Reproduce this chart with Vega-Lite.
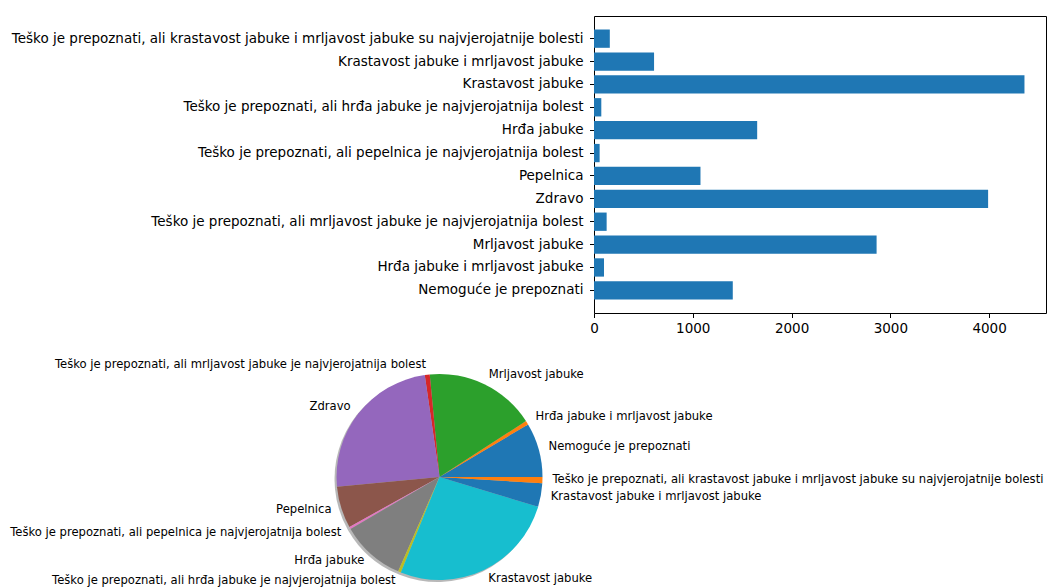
{
  "$schema": "https://vega.github.io/schema/vega-lite/v6.json",
  "padding": {"left": 9.5, "top": 15, "right": 0, "bottom": 0},
  "background": "white",
  "config": {"font": "DejaVu Sans", "view": {"stroke": null}},
  "spacing": 8,
  "data": {
    "values": [
      {"label": "Nemoguće je prepoznati", "n": 1405},
      {"label": "Hrđa jabuke i mrljavost jabuke", "n": 101},
      {"label": "Mrljavost jabuke", "n": 2861},
      {"label": "Teško je prepoznati, ali mrljavost jabuke je najvjerojatnija bolest", "n": 128},
      {"label": "Zdravo", "n": 3990},
      {"label": "Pepelnica", "n": 1078},
      {"label": "Teško je prepoznati, ali pepelnica je najvjerojatnija bolest", "n": 57},
      {"label": "Hrđa jabuke", "n": 1652},
      {"label": "Teško je prepoznati, ali hrđa jabuke je najvjerojatnija bolest", "n": 74},
      {"label": "Krastavost jabuke", "n": 4358},
      {"label": "Krastavost jabuke i mrljavost jabuke", "n": 608},
      {"label": "Teško je prepoznati, ali krastavost jabuke i mrljavost jabuke su najvjerojatnije bolesti", "n": 160}
    ]
  },
  "vconcat": [
    {
      "spacing": 4.5,
      "hconcat": [
        {
          "width": 574,
          "height": 297,
          "mark": {"type": "text", "align": "right", "baseline": "middle", "fontSize": 13.5, "color": "#000"},
          "encoding": {
            "y": {
              "field": "label",
              "type": "nominal",
              "sort": [
                "Teško je prepoznati, ali krastavost jabuke i mrljavost jabuke su najvjerojatnije bolesti",
                "Krastavost jabuke i mrljavost jabuke",
                "Krastavost jabuke",
                "Teško je prepoznati, ali hrđa jabuke je najvjerojatnija bolest",
                "Hrđa jabuke",
                "Teško je prepoznati, ali pepelnica je najvjerojatnija bolest",
                "Pepelnica",
                "Zdravo",
                "Teško je prepoznati, ali mrljavost jabuke je najvjerojatnija bolest",
                "Mrljavost jabuke",
                "Hrđa jabuke i mrljavost jabuke",
                "Nemoguće je prepoznati"
              ],
              "scale": {"type": "band", "paddingInner": 0.2, "paddingOuter": 0.59},
              "axis": null
            },
            "x": {"value": "width"},
            "text": {"field": "label"}
          }
        },
        {
          "width": 452,
          "height": 297,
          "view": {"stroke": "#000", "strokeWidth": 1},
          "mark": {"type": "bar", "color": "#1f77b4"},
          "encoding": {
            "y": {
              "field": "label",
              "type": "nominal",
              "sort": [
                "Teško je prepoznati, ali krastavost jabuke i mrljavost jabuke su najvjerojatnije bolesti",
                "Krastavost jabuke i mrljavost jabuke",
                "Krastavost jabuke",
                "Teško je prepoznati, ali hrđa jabuke je najvjerojatnija bolest",
                "Hrđa jabuke",
                "Teško je prepoznati, ali pepelnica je najvjerojatnija bolest",
                "Pepelnica",
                "Zdravo",
                "Teško je prepoznati, ali mrljavost jabuke je najvjerojatnija bolest",
                "Mrljavost jabuke",
                "Hrđa jabuke i mrljavost jabuke",
                "Nemoguće je prepoznati"
              ],
              "scale": {"paddingInner": 0.2, "paddingOuter": 0.59},
              "axis": {
                "title": null,
                "domain": false,
                "labels": false,
                "tickColor": "#000",
                "tickSize": 4.5
              }
            },
            "x": {
              "field": "n",
              "type": "quantitative",
              "scale": {"domain": [0, 4576], "nice": false},
              "axis": {
                "title": null,
                "values": [0, 1000, 2000, 3000, 4000],
                "format": "d",
                "grid": false,
                "domain": false,
                "labelFlush": false,
                "labelFontSize": 13.5,
                "labelColor": "#000",
                "tickColor": "#000",
                "tickSize": 4.5,
                "labelPadding": 4
              }
            }
          }
        }
      ]
    },
    {
      "width": 860,
      "height": 266,
      "transform": [
        {"window": [{"op": "row_number", "as": "idx"}]},
        {"joinaggregate": [{"op": "sum", "field": "n", "as": "total"}]},
        {"window": [{"op": "sum", "field": "n", "as": "cum"}], "sort": [{"field": "idx"}], "frame": [null, 0]}
      ],
      "encoding": {
        "theta": {"field": "n", "type": "quantitative", "stack": true, "scale": {"range": [1.5708, -4.7124]}},
        "order": {"field": "idx", "type": "quantitative"},
        "color": {
          "field": "label",
          "type": "nominal",
          "legend": null,
          "scale": {
            "domain": [
              "Nemoguće je prepoznati",
              "Hrđa jabuke i mrljavost jabuke",
              "Mrljavost jabuke",
              "Teško je prepoznati, ali mrljavost jabuke je najvjerojatnija bolest",
              "Zdravo",
              "Pepelnica",
              "Teško je prepoznati, ali pepelnica je najvjerojatnija bolest",
              "Hrđa jabuke",
              "Teško je prepoznati, ali hrđa jabuke je najvjerojatnija bolest",
              "Krastavost jabuke",
              "Krastavost jabuke i mrljavost jabuke",
              "Teško je prepoznati, ali krastavost jabuke i mrljavost jabuke su najvjerojatnije bolesti"
            ],
            "range": ["#1f77b4", "#ff7f0e", "#2ca02c", "#d62728", "#9467bd", "#8c564b", "#e377c2", "#7f7f7f", "#bcbd22", "#17becf", "#1f77b4", "#ff7f0e"]
          }
        }
      },
      "layer": [
        {
          "mark": {"type": "arc", "outerRadius": 103, "opacity": 0.35, "xOffset": -2, "yOffset": 2},
          "encoding": {"color": {"value": "#333"}}
        },
        {
          "mark": {"type": "arc", "outerRadius": 103}
        },
        {
          "mark": {
            "type": "text",
            "radius": 113,
            "fontSize": 11.6,
            "baseline": "middle",
            "align": {"expr": "cos(2*PI*(datum.cum - datum.n/2)/datum.total) >= 0 ? 'left' : 'right'"}
          },
          "encoding": {"text": {"field": "label"}, "color": {"value": "#000"}}
        }
      ]
    }
  ]
}
